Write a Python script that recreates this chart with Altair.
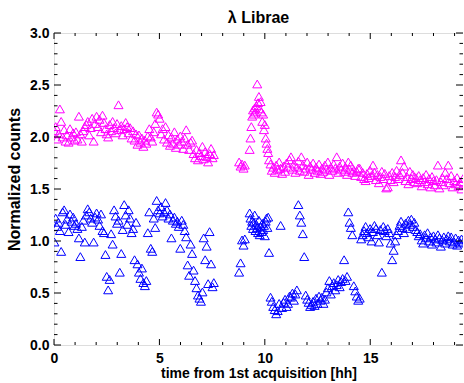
import altair as alt
import pandas as pd

FONT = "Liberation Sans"

t_hours = [
    0.02, 0.08, 0.14, 0.21, 0.28, 0.34, 0.41,
    0.48, 0.55, 0.62, 0.69, 0.76, 0.83, 0.91, 0.97,
    1.04, 1.11, 1.18, 1.25, 1.32, 1.39, 1.46,
    1.53, 1.60, 1.67, 1.74, 1.81, 1.88, 1.95,
    2.02, 2.09, 2.16, 2.23, 2.30, 2.37, 2.44, 2.50,
    2.57, 2.64, 2.71, 2.78, 2.85, 2.92, 2.99,
    3.06, 3.12, 3.19, 3.26, 3.33, 3.40, 3.47,
    3.54, 3.61, 3.68, 3.75, 3.82, 3.89, 3.96,
    4.03, 4.10, 4.17, 4.24, 4.31, 4.38, 4.45,
    4.52, 4.59, 4.66, 4.73, 4.80, 4.87, 4.94,
    5.01, 5.08, 5.15, 5.22, 5.29, 5.36, 5.43, 5.50,
    5.57, 5.64, 5.71, 5.78, 5.85, 5.92, 5.99,
    6.06, 6.13, 6.20, 6.27, 6.34, 6.41, 6.48,
    6.55, 6.62, 6.69, 6.76, 6.83, 6.90, 6.97,
    7.04, 7.10, 7.17, 7.24, 7.31, 7.38, 7.45, 7.52, 7.58,
    8.78, 8.85, 8.92, 8.99, 9.05,
    9.28, 9.32, 9.36, 9.40, 9.44, 9.48, 9.52, 9.56, 9.60, 9.64, 9.68, 9.72,
    9.76, 9.80, 9.84, 9.88, 9.92, 9.96, 10.00, 10.04, 10.08, 10.12, 10.16, 10.20,
    10.27, 10.33, 10.40, 10.47, 10.54, 10.61, 10.68,
    10.75, 10.82, 10.89, 10.96, 11.03, 11.10, 11.17, 11.24,
    11.31, 11.38, 11.45, 11.52, 11.59, 11.66, 11.73,
    11.80, 11.87, 11.94, 12.01, 12.08, 12.15, 12.22,
    12.29, 12.36, 12.43, 12.50, 12.57, 12.64, 12.71,
    12.78, 12.85, 12.92, 12.99, 13.06, 13.13, 13.20,
    13.27, 13.34, 13.41, 13.48, 13.55, 13.62, 13.69,
    13.76, 13.83, 13.90, 13.96, 14.02, 14.08, 14.15, 14.22,
    14.29, 14.36, 14.43, 14.50, 14.57, 14.64, 14.71,
    14.78, 14.85, 14.92, 14.99, 15.06, 15.13, 15.20,
    15.27, 15.34, 15.41, 15.48, 15.55, 15.62, 15.69,
    15.76, 15.83, 15.90, 15.97, 16.04, 16.11, 16.18,
    16.25, 16.32, 16.39, 16.46, 16.53, 16.60, 16.67,
    16.74, 16.81, 16.88, 16.95, 17.02, 17.09, 17.16,
    17.23, 17.30, 17.37, 17.44, 17.51, 17.58, 17.65, 17.72,
    17.79, 17.86, 17.93, 18.00, 18.07, 18.14, 18.21,
    18.28, 18.35, 18.42, 18.49, 18.56, 18.63, 18.70,
    18.77, 18.84, 18.91, 18.98, 19.05, 19.12, 19.19, 19.26, 19.33, 19.40,
]

counts_magenta = [
    2.06, 2.10, 1.98, 2.03, 2.27, 2.15, 2.00,
    2.07, 1.96, 2.02, 1.95, 2.08, 2.00, 2.04, 1.97,
    2.05, 1.98, 2.20, 2.03, 1.96, 2.06, 2.10,
    2.12, 2.15, 2.02, 2.09, 2.18, 1.96, 2.13,
    2.20, 2.10, 2.17, 2.05, 2.21, 2.14, 2.08, 2.03,
    2.00, 2.12, 2.06, 2.15, 2.09, 2.04, 2.13,
    2.31, 2.07, 2.11, 2.02, 2.08, 2.14, 2.10,
    2.04, 2.09, 1.99, 2.06, 1.97, 2.03, 1.93,
    2.02, 1.95, 1.99, 1.91, 1.97, 1.94, 2.01,
    2.08, 2.00, 1.96, 2.05, 2.13, 2.24, 2.22,
    2.18, 2.03, 2.08, 1.98, 2.10, 1.95, 2.02, 1.92,
    2.00, 1.94, 2.05, 1.90, 1.98, 1.93, 2.01,
    1.96, 1.89, 1.99, 2.07, 1.93, 1.88, 1.95,
    1.97, 1.84, 1.80, 1.88, 1.78, 1.85, 1.82,
    1.91, 1.79, 1.86, 1.81, 1.76, 1.84, 1.89, 1.80, 1.83,
    1.76, 1.72, 1.74, 1.70, 1.73,
    1.88, 1.99, 2.10, 2.20, 2.26, 2.22, 2.28, 2.24, 2.30, 2.51, 2.33, 2.39,
    2.27, 2.34, 2.24, 2.15, 2.22, 2.07, 2.12, 1.99, 1.94, 1.89, 1.85, 1.78,
    1.74, 1.68, 1.71, 1.66, 1.73, 1.69, 1.76,
    1.70, 1.65, 1.72, 1.67, 1.75, 1.71, 1.78, 1.81,
    1.69, 1.74, 1.66, 1.71, 1.77, 1.68, 1.81,
    1.73, 1.67, 1.70, 1.76, 1.64, 1.72, 1.69,
    1.75, 1.66, 1.71, 1.68, 1.74, 1.65, 1.70,
    1.67, 1.73, 1.69, 1.76, 1.64, 1.71, 1.68,
    1.74, 1.70, 1.81, 1.66, 1.72, 1.69, 1.75,
    1.67, 1.71, 1.64, 1.76, 1.69, 1.73, 1.66, 1.68,
    1.63, 1.67, 1.70, 1.70, 1.62, 1.66, 1.60,
    1.58, 1.65, 1.61, 1.68, 1.63, 1.73, 1.66,
    1.59, 1.64, 1.56, 1.62, 1.67, 1.60, 1.65,
    1.51, 1.52, 1.63, 1.59, 1.66, 1.57, 1.62,
    1.68, 1.60, 1.64, 1.78, 1.66, 1.72, 1.58,
    1.62, 1.55, 1.67, 1.60, 1.64, 1.57, 1.61,
    1.56, 1.63, 1.59, 1.53, 1.61, 1.57, 1.64, 1.55,
    1.60, 1.52, 1.62, 1.58, 1.54, 1.59, 1.73,
    1.51, 1.57, 1.61, 1.54, 1.66, 1.60, 1.73,
    1.56, 1.63, 1.52, 1.58, 1.55, 1.61, 1.53, 1.57, 1.50, 1.60,
]

counts_blue = [
    0.99, 1.22, 1.14, 1.18, 1.10, 0.90, 1.28,
    1.30, 1.16, 1.21, 1.09, 1.26, 1.19, 1.23, 1.15,
    1.17, 1.12, 1.03, 0.85, 1.14, 1.20, 0.99,
    1.25, 1.31, 1.28, 1.22, 1.18, 0.99, 1.23,
    1.27, 1.21, 1.15, 1.26, 1.10, 1.08, 0.87, 0.66,
    0.53, 0.63, 1.07, 0.97, 1.30, 1.24, 1.17,
    1.20, 0.70, 0.88, 1.11, 1.35, 1.25, 1.16,
    1.30, 1.22, 1.08, 1.12, 0.82, 1.18, 0.78,
    0.70, 0.64, 0.74, 0.60, 0.57, 0.62, 1.08,
    1.28, 0.93, 0.90, 1.22, 1.13, 1.39, 1.30,
    1.27, 1.33, 1.24, 1.28, 1.37, 1.30, 1.22, 1.26,
    1.03, 1.20, 1.23, 1.17, 1.19, 1.14, 0.93,
    1.20, 1.16, 1.10, 1.04, 0.77, 0.67, 0.97,
    0.88, 0.72, 0.62, 0.55, 0.48, 0.45, 0.42,
    0.51, 1.03, 0.82, 0.95, 0.59, 1.09, 0.78, 0.56, 0.60,
    0.70, 0.79, 1.01, 0.96, 1.02,
    1.27, 1.22, 1.15, 1.19, 1.12, 1.18, 1.25, 1.10, 1.16, 1.13, 1.08, 1.20,
    1.06, 1.14, 1.09, 1.17, 1.11, 1.15, 1.05, 1.19, 1.22, 1.13, 1.23, 0.89,
    0.46, 0.42, 0.37, 0.34, 0.30, 0.33, 0.40,
    1.15, 0.36, 0.41, 0.44, 0.37, 0.40, 0.47, 0.46,
    0.50, 0.43, 0.49, 0.53, 1.35, 1.25, 1.18,
    1.07, 0.85, 0.48, 0.44, 0.41, 0.37, 0.39,
    0.42, 0.38, 0.45, 0.40, 0.47, 0.43, 0.46,
    0.40, 0.44, 0.51, 0.55, 0.62, 0.49, 0.57,
    0.60, 0.53, 0.58, 0.63, 0.56, 0.61, 0.64,
    0.82, 0.62, 0.66, 1.28, 1.18, 1.13, 1.06, 0.57,
    0.52, 0.47, 0.43, 0.45, 1.02, 1.06, 1.10,
    1.14, 1.08, 1.04, 1.12, 1.00, 1.09, 1.15,
    1.12, 1.06, 0.99, 1.11, 0.70, 1.14, 1.10,
    1.05, 1.12, 1.08, 0.98, 0.82, 0.91, 1.00,
    1.06, 1.10, 1.15, 1.19, 1.13, 1.08, 1.17,
    1.12, 1.20, 1.16, 1.21, 1.14, 1.18, 1.11,
    1.09, 1.05, 1.07, 1.01, 0.98, 1.06, 1.03, 1.08,
    1.00, 1.04, 0.97, 1.05, 1.02, 0.99, 1.06,
    1.03, 0.95, 1.01, 1.04, 0.98, 1.02, 1.05,
    1.00, 1.04, 0.97, 0.99, 1.03, 0.96, 1.01, 0.98, 1.02, 0.99,
]

series_names = ["magenta", "blue"]
series_colors = ["#ff00ff", "#0000ff"]

x_major = [0, 5, 10, 15]
x_minor = [1, 2, 3, 4, 6, 7, 8, 9, 11, 12, 13, 14, 16, 17, 18, 19]
y_major = [0.0, 0.5, 1.0, 1.5, 2.0, 2.5, 3.0]
y_minor = [0.1, 0.2, 0.3, 0.4, 0.6, 0.7, 0.8, 0.9, 1.1, 1.2, 1.3, 1.4,
           1.6, 1.7, 1.8, 1.9, 2.1, 2.2, 2.3, 2.4, 2.6, 2.7, 2.8, 2.9]

X_DOMAIN = [0, 19.4]
Y_DOMAIN = [0, 3.0]
W, H = 409, 312

n = min(len(t_hours), len(counts_magenta), len(counts_blue))
df = pd.concat([
    pd.DataFrame({"t": t_hours[:n], "v": counts_magenta[:n], "series": "magenta"}),
    pd.DataFrame({"t": t_hours[:n], "v": counts_blue[:n], "series": "blue"}),
])

xs = alt.Scale(domain=X_DOMAIN, nice=False, zero=False)
ys = alt.Scale(domain=Y_DOMAIN, nice=False, zero=False)

x_axis = alt.Axis(
    values=x_major, title="time from 1st acquisition [hh]", ticks=False, domain=False,
    grid=False, labelFlush=False, labelOverlap=False, labelPadding=6,
    labelFont=FONT, labelFontSize=14, labelFontWeight="bold", labelColor="black",
    titleFont=FONT, titleFontSize=14, titleFontWeight="bold", titleColor="black",
    titlePadding=1)
y_axis = alt.Axis(
    values=y_major, format=".1f", title="Normalized counts", ticks=False, domain=False,
    grid=False, labelFlush=False, labelOverlap=False, labelPadding=5,
    labelFont=FONT, labelFontSize=14, labelFontWeight="bold", labelColor="black",
    titleFont=FONT, titleFontSize=16, titleFontWeight="bold", titleColor="black",
    titlePadding=7, titleY=146)

points = alt.Chart(df).mark_point(
    shape="triangle-up", filled=False, size=81, strokeWidth=1, opacity=1, clip=True
).encode(
    x=alt.X("t:Q", scale=xs, axis=x_axis),
    y=alt.Y("v:Q", scale=ys, axis=y_axis),
    color=alt.Color("series:N", scale=alt.Scale(domain=series_names, range=series_colors),
                    legend=None),
)


def xticks(vals, y1, y2):
    return alt.Chart(pd.DataFrame({"t": vals})).mark_rule(color="black", strokeWidth=1).encode(
        x=alt.X("t:Q", scale=xs, axis=x_axis), y=alt.value(y1), y2=alt.value(y2))


def yticks(vals, x1, x2):
    return alt.Chart(pd.DataFrame({"v": vals})).mark_rule(color="black", strokeWidth=1).encode(
        y=alt.Y("v:Q", scale=ys, axis=y_axis), x=alt.value(x1), x2=alt.value(x2))


tick_layers = [
    xticks(x_major, H, H - 6), xticks(x_minor, H, H - 3),
    xticks(x_major, 0, 6), xticks(x_minor, 0, 3),
    yticks(y_major, 0, 7), yticks(y_minor, 0, 3.5),
    yticks(y_major, W, W - 7), yticks(y_minor, W, W - 3.5),
]

chart = alt.layer(points, *tick_layers).properties(
    width=W, height=H,
    autosize=alt.AutoSizeParams(type="none"),
    padding={"left": 54, "top": 33, "right": 0, "bottom": 38},
    title=alt.TitleParams("λ Librae", font=FONT, fontSize=16, fontWeight="bold",
                          color="black", anchor="middle", offset=0),
).configure_view(stroke="black", strokeWidth=1.3).configure(background="white")

chart.save("out.html", embed_options={"renderer": "svg", "actions": False})
